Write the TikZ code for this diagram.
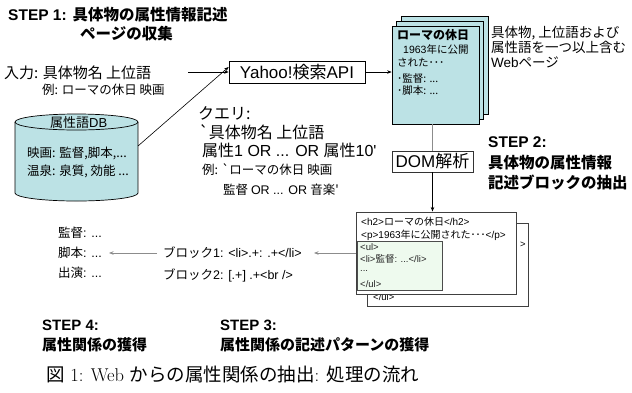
\documentclass[tikz,border=0pt]{standalone}
\usepackage{fontspec}
\newfontfamily\jp{Noto Sans CJK JP}
\newfontfamily\ar{Liberation Sans}
\usetikzlibrary{arrows.meta}
\definecolor{pagecyan}{RGB}{188,226,229}
\definecolor{innergreen}{RGB}{238,250,238}
\definecolor{lgray}{RGB}{140,140,140}
\tikzset{
  lbl/.style={anchor=west, inner sep=0pt, font=\jp\fontsize{#1}{#1}\selectfont},
  head/.style={anchor=west, inner sep=0pt, font=\jp\bfseries\fontsize{#1}{#1}\selectfont},
  arr/.style={-{Stealth[length=4.5pt,width=3.5pt]}, line width=0.6pt},
  garr/.style={-{Stealth[length=4.5pt,width=3.5pt]}, line width=0.9pt, draw=lgray},
  gline/.style={line width=0.9pt, draw=lgray},
  boxed/.style={draw, line width=0.7pt, inner sep=0pt, font=\jp\fontsize{17}{17}\selectfont},
  pagebox/.style={draw, line width=0.7pt, fill=pagecyan},
  htmlbox/.style={draw=black!75, line width=1pt, fill=white},
}
\begin{document}
\begin{tikzpicture}[x=1pt,y=-1pt]
\useasboundingbox[fill=white] (0,0) rectangle (632,392);

% STEP 1
\node[head=15.5] (s1a) at (8,15) {{\ar STEP 1: }具体物の属性情報記述};
\node[head=15.5] (s1b) at (80,34) {ページの収集};

% input
\node[lbl=15] (input) at (4,73) {入力: 具体物名 上位語};
\node[lbl=12.5] (inex) at (42,90) {例: ローマの休日 映画};

% Yahoo box
\node[boxed, minimum width=136pt, minimum height=22pt] (yahoo) at (297,72) {{\ar Yahoo!}検索{\ar API}};
\coordinate (instart) at (188,72);
\draw[arr] (instart) -- (yahoo.west);

% cylinder DB
\fill[pagecyan] (76.5,193) ellipse [x radius=61.5pt, y radius=8pt];
\fill[pagecyan] (15,122) rectangle (138,193);
\draw[line width=0.7pt] (15,122) -- (15,193) arc[start angle=180, end angle=360, x radius=61.5pt, y radius=8pt] -- (138,122);
\draw[line width=0.7pt, fill=pagecyan] (76.5,122) ellipse [x radius=61.5pt, y radius=8pt];
\node[lbl=13] (dbname) at (50,123) {属性語{\ar DB}};
\node[lbl=12.5] (db1) at (27,153) {映画: 監督,脚本,...};
\node[lbl=12.5] (db2) at (27,171) {温泉: 泉質, 効能 ...};
\coordinate (dbout) at (138,146);
\draw[arr] (dbout) -- ([yshift=5pt]yahoo.west);

% query
\node[lbl=16] (q1) at (198,113) {クエリ:};
\node[lbl=16] (q2) at (199,132) {`具体物名 上位語};
\node[lbl=16] (q3) at (202,150) {属性{\ar 1 OR ... OR }属性{\ar 10'}};
\node[lbl=12.5] (q4) at (202,170) {例: `ローマの休日 映画};
\node[lbl=12.5] (q5) at (223,190) {監督 {\ar OR ... OR }音楽'};

% pages
\draw[pagebox] (401,16) rectangle (488,114);
\draw[pagebox] (396.5,21) rectangle (483.5,119);
\node[pagebox, minimum width=87pt, minimum height=98pt, inner sep=0pt] (page) at (435.5,75) {};
\node[head=12] (pg1) at (397,35) {ローマの休日};
\node[lbl=10.5] (pg2) at (403,50) {{\ar 1963}年に公開};
\node[lbl=10.5] (pg3) at (397,63) {された･･･};
\node[lbl=10.5] (pg4) at (397,79) {･監督: ...};
\node[lbl=10.5] (pg5) at (397,91) {･脚本: ...};
\draw[arr] (yahoo.east) -- (yahoo.east -| page.west);

\node[lbl=13.5] (r1) at (491,33) {具体物, 上位語および};
\node[lbl=13.5] (r2) at (491,47.5) {属性語を一つ以上含む};
\node[lbl=13.5] (r3) at (491,62) {{\ar Web}ページ};

% DOM
\node[boxed, draw=black!80, minimum width=81pt, minimum height=21pt] (dom) at (432.5,161.5) {{\ar DOM}解析};
\draw[gline] (dom.north |- page.south) -- (dom.north);

% STEP 2
\node[head=15.5] (s2a) at (488,142) {{\ar STEP 2:}};
\node[head=15.5] (s2b) at (488,163) {具体物の属性情報};
\node[head=15.5] (s2c) at (488,183) {記述ブロックの抽出};

% HTML boxes
\draw[htmlbox] (367,223) rectangle (528,306);
\node[lbl=9.5] (bk1) at (520,245) {{\ar >}};
\node[lbl=9.5] (bk2) at (373,297) {{\ar </ul>}};
\node[htmlbox, minimum width=160pt, minimum height=82pt, inner sep=0pt] (html) at (436,253) {};
\draw[arr] (dom.south) -- (dom.south |- html.north);
\node[lbl=10] (h1) at (361,222) {{\ar <h2>}ローマの休日{\ar </h2>}};
\node[lbl=10] (h2) at (361,235.5) {{\ar <p>1963}年に公開された･･･{\ar </p>}};
\node[draw=black!70, line width=1pt, fill=innergreen, minimum width=85pt, minimum height=49pt, inner sep=0pt] (inner) at (399.5,265.5) {};
\node[lbl=9.5, text=black!85] (i1) at (360,247) {{\ar <ul>}};
\node[lbl=9.5, text=black!85] (i2) at (360,259) {{\ar <li>}監督{\ar : ...</li>}};
\node[lbl=9.5, text=black!85] (i3) at (360,271) {{\ar ...}};
\node[lbl=9.5, text=black!85] (i4) at (360,284) {{\ar </ul>}};

% patterns
\coordinate (p1tip) at (314,253);
\draw[garr] (html.west |- p1tip) -- (p1tip);
\node[lbl=12.5] (pat1) at (163,253) {ブロック{\ar 1: <li>.+: .+</li>}};
\node[lbl=12.5] (pat2) at (163,275) {ブロック{\ar 2: [.+] .+<br />}};
\coordinate (p2start) at (157,253);
\coordinate (p2tip) at (109,253);
\draw[garr] (p2start) -- (p2tip);

% relations
\node[lbl=12.5] (a1) at (58,233) {監督{\ar : ...}};
\node[lbl=12.5] (a2) at (58,253) {脚本{\ar : ...}};
\node[lbl=12.5] (a3) at (58,273) {出演{\ar : ...}};

% STEP 3/4
\node[head=15] (s4a) at (42,325) {{\ar STEP 4:}};
\node[head=15] (s4b) at (42,345) {属性関係の獲得};
\node[head=15] (s3a) at (220,325) {{\ar STEP 3:}};
\node[head=15] (s3b) at (220,345) {属性関係の記述パターンの獲得};

% caption
\node[anchor=west, inner sep=0pt, font=\fontsize{18.5}{18.5}\selectfont] (cap) at (46,374) {{\jp 図} 1: Web {\jp からの属性関係の抽出}: {\jp 処理の流れ}};
\end{tikzpicture}
\end{document}
